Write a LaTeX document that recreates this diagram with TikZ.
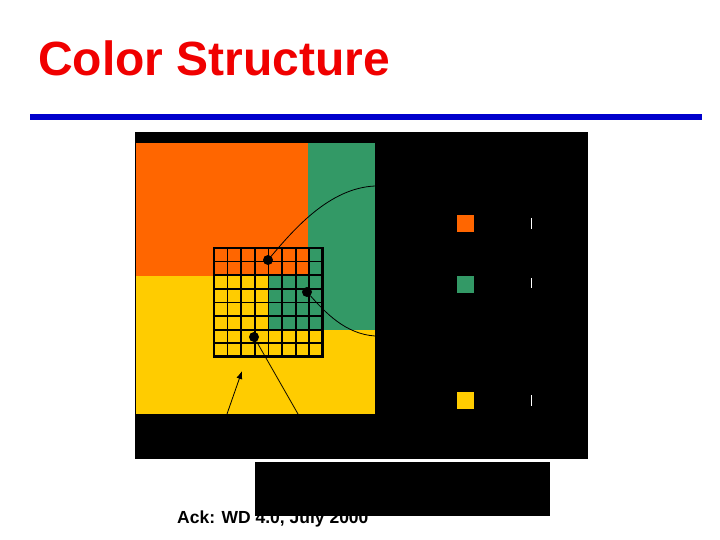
\documentclass[tikz,border=0pt]{standalone}
\usepackage{fontspec}
\setmainfont{Liberation Sans}
\usetikzlibrary{matrix, positioning, arrows.meta}

\definecolor{titlered}{HTML}{F00000}
\definecolor{rulerblue}{HTML}{0000CC}
\definecolor{csorange}{HTML}{FF6600}
\definecolor{csgreen}{HTML}{339966}
\definecolor{csyellow}{HTML}{FFCC00}

\tikzset{
	dot/.style={circle, fill=black, inner sep=0pt, minimum size=10pt},
	swatch/.style={inner sep=0pt, minimum size=17pt},
	tick/.style={draw=white, line width=1pt},
	pointer/.style={draw=black, line width=0.8pt}
}

\begin{document}
\begin{tikzpicture}[x=1pt, y=-1pt]
		\useasboundingbox [fill=white] (0,0) rectangle (720,540);
		\node [anchor=base west, inner sep=0pt, text=titlered,
		font=\fontsize{48}{56}\selectfont\bfseries]
		(title) at (38,76) {Color Structure};
		\draw [rulerblue, line width=6pt] (30,117) -- (702,117);
		\node [anchor=base west, inner sep=0pt,
		font=\fontsize{17.5}{20}\selectfont\bfseries]
		(ack) at (177,523) {Ack: WD 4.0, July 2000};
		\fill [fill=black] (135,132) rectangle (588,459);
		\fill [fill=black] (255,462) rectangle (550,516);
		\fill [fill=csyellow] (136,143) rectangle (375,414);
		\fill [fill=csorange] (136,143) rectangle (308,276);
		\fill [fill=csgreen] (308,143) rectangle (375,330);
		\fill [fill=csgreen] (268,276) rectangle (308,330);
		\matrix [matrix of nodes,
		nodes in empty cells,
		column sep=0pt, row sep=0pt, inner sep=0pt,
		anchor=north west,
		nodes={draw, line width=0.8pt, minimum size=12.825pt,
			inner sep=0pt, outer sep=0pt}
		]
		(grid) at (213.6,247.6)
		{ & & & & & & & \\
		  & & & & & & & \\
		  & & & & & & & \\
		  & & & & & & & \\
		  & & & & & & & \\
		  & & & & & & & \\
		  & & & & & & & \\
		  & & & & & & & \\
		};
		\draw [line width=2.4pt]
		(grid-1-1.north west) rectangle (grid-8-8.south east);
		\node [dot] (d1) at (268,260) {};
		\node [dot] (d2) at (307,292) {};
		\node [dot] (d3) at (254,337) {};
		\coordinate (c1) at (375,186);
		\coordinate (c2) at (375,336);
		\coordinate (c3) at (298,414);
		\coordinate (a0) at (227,414);
		\coordinate (a1) at (242,371);
		\draw [pointer] (d1) .. controls (295,228) and (330,188) .. (c1);
		\draw [pointer] (d2) .. controls (325,312) and (345,334) .. (c2);
		\draw [pointer] (d3) -- (c3);
		\draw [pointer, -{Latex[length=8pt, width=6pt]}] (a0) -- (a1);
		\node [swatch, fill=csorange] (s1) at (465.5,223.5) {};
		\node [swatch, fill=csgreen] (s2) at (465.5,284.5) {};
		\node [swatch, fill=csyellow] (s3) at (465.5,400.5) {};
		\draw [tick] (531,218) -- (531,229);
		\draw [tick] (531,278) -- (531,288);
		\draw [tick] (531,395) -- (531,406);
	\end{tikzpicture}
\end{document}
